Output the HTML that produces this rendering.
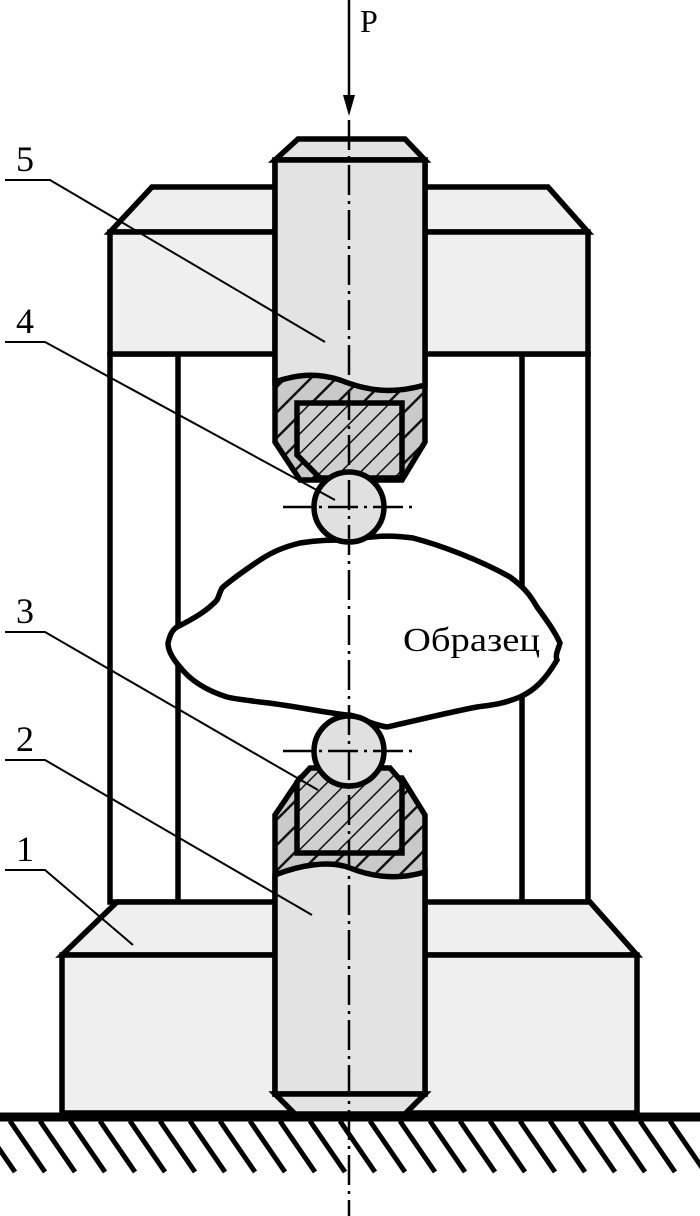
<!DOCTYPE html>
<html><head><meta charset="utf-8"><style>html,body{margin:0;padding:0;background:#fff}svg{display:block}</style></head>
<body>
<svg width="700" height="1216" viewBox="0 0 700 1216" xmlns="http://www.w3.org/2000/svg">
<defs>
<pattern id="h" patternUnits="userSpaceOnUse" width="18" height="18" patternTransform="rotate(45)">
<rect width="18" height="18" fill="#c9c9c9"/><line x1="0" y1="0" x2="0" y2="18" stroke="#111" stroke-width="5"/></pattern>
<pattern id="h2" patternUnits="userSpaceOnUse" width="14" height="14" patternTransform="rotate(45)">
<rect width="14" height="14" fill="#d0d0d0"/><line x1="0" y1="0" x2="0" y2="14" stroke="#111" stroke-width="3"/></pattern>
</defs>
<g stroke="#000" stroke-width="5.5" stroke-linejoin="miter">
<rect x="110" y="354" width="68" height="548" fill="#fff"/>
<rect x="522" y="354" width="66" height="548" fill="#fff"/>
<path d="M110,232 L152,187 L548,187 L588,232 Z" fill="#efefef"/>
<rect x="110" y="232" width="478" height="122" fill="#efefef"/>
<path d="M62,955 L117,902 L590,902 L637,955 Z" fill="#efefef"/>
<rect x="62" y="955" width="575" height="158" fill="#efefef"/>
<path d="M275,160 L298,139 L405,139 L425,160 Z" fill="#e3e3e3"/>
<path d="M275,160 L425,160 L425,442 L402,480 L300,480 L275,442 Z" fill="url(#h)"/>
<path d="M275,160 L425,160 L425,385 C390,395 365,390 340,380 C315,372 295,375 275,382 Z" fill="#e3e3e3"/>
<path d="M297,403 L402,403 L402,478 L320,478 L297,455 Z" fill="url(#h2)"/>
<path d="M275,815 L300,778 L402,778 L425,815 L425,1094 L275,1094 Z" fill="url(#h)"/>
<path d="M275,875 C300,865 330,860 350,868 C380,880 405,878 425,872 L425,1094 L275,1094 Z" fill="#e3e3e3"/>
<path d="M297,853 L402,853 L402,782 L390,768 L310,768 L297,782 Z" fill="url(#h2)"/>
<path d="M275,1094 L425,1094 L405,1114 L295,1114 Z" fill="#e3e3e3"/>
<path d="M347,540 C370,537 385,534 413,538 C440,545 480,560 510,577 C525,588 530,595 537,607 C548,622 555,632 560,643 C558,650 555,655 557,660 C545,680 535,690 520,697 C500,705 490,705 477,707 C450,712 410,722 387,727 C375,725 370,722 363,720 C355,716 352,715 347,715 C320,712 290,705 260,702 C245,700 235,699 227,697 C205,690 190,680 180,667 C172,658 168,650 168,643 C170,635 172,630 177,627 C195,618 208,610 217,600 C220,594 220,590 223,587 C235,577 248,568 260,560 C275,550 288,546 300,543 C318,540 332,540 347,540 Z" fill="#fff"/>
<circle cx="349" cy="507" r="35" fill="#e0e0e0"/>
<circle cx="349" cy="751" r="35" fill="#e0e0e0"/>
<line x1="0" y1="1117" x2="700" y2="1117" stroke-width="9"/>
</g>
<g stroke="#000" stroke-width="5">
<line x1="-20" y1="1121" x2="15" y2="1172"/><line x1="10" y1="1121" x2="45" y2="1172"/><line x1="40" y1="1121" x2="75" y2="1172"/><line x1="70" y1="1121" x2="105" y2="1172"/><line x1="100" y1="1121" x2="135" y2="1172"/><line x1="130" y1="1121" x2="165" y2="1172"/><line x1="160" y1="1121" x2="195" y2="1172"/><line x1="190" y1="1121" x2="225" y2="1172"/><line x1="220" y1="1121" x2="255" y2="1172"/><line x1="250" y1="1121" x2="285" y2="1172"/><line x1="280" y1="1121" x2="315" y2="1172"/><line x1="310" y1="1121" x2="345" y2="1172"/><line x1="340" y1="1121" x2="375" y2="1172"/><line x1="370" y1="1121" x2="405" y2="1172"/><line x1="400" y1="1121" x2="435" y2="1172"/><line x1="430" y1="1121" x2="465" y2="1172"/><line x1="460" y1="1121" x2="495" y2="1172"/><line x1="490" y1="1121" x2="525" y2="1172"/><line x1="520" y1="1121" x2="555" y2="1172"/><line x1="550" y1="1121" x2="585" y2="1172"/><line x1="580" y1="1121" x2="615" y2="1172"/><line x1="610" y1="1121" x2="645" y2="1172"/><line x1="640" y1="1121" x2="675" y2="1172"/><line x1="670" y1="1121" x2="705" y2="1172"/>
</g>
<g stroke="#000" stroke-width="2.5" stroke-dasharray="30,6,3,6">
<line x1="349" y1="120" x2="349" y2="1216"/>
<line x1="283" y1="507" x2="415" y2="507"/>
<line x1="283" y1="751" x2="415" y2="751"/>
</g>
<line x1="349" y1="0" x2="349" y2="100" stroke="#000" stroke-width="2.5"/>
<path d="M343,95 L355,95 L349,116 Z" fill="#000"/>
<text x="360" y="32" font-family="Liberation Serif, serif" font-size="32">P</text>
<g stroke="#000" stroke-width="2" fill="none">
<polyline points="5,180 50,180 325,342"/>
<polyline points="5,342 45,342 335,500"/>
<polyline points="5,632 45,632 318,790"/>
<polyline points="5,760 45,760 312,915"/>
<polyline points="5,870 45,870 133,945"/>
</g>
<g font-family="Liberation Serif, serif" font-size="36">
<text x="16" y="171">5</text>
<text x="16" y="333">4</text>
<text x="16" y="623">3</text>
<text x="16" y="751">2</text>
<text x="16" y="861">1</text>
</g>
<text x="403" y="651" font-family="Liberation Serif, serif" font-size="34" textLength="137" lengthAdjust="spacingAndGlyphs">Образец</text>
</svg>
</body></html>
